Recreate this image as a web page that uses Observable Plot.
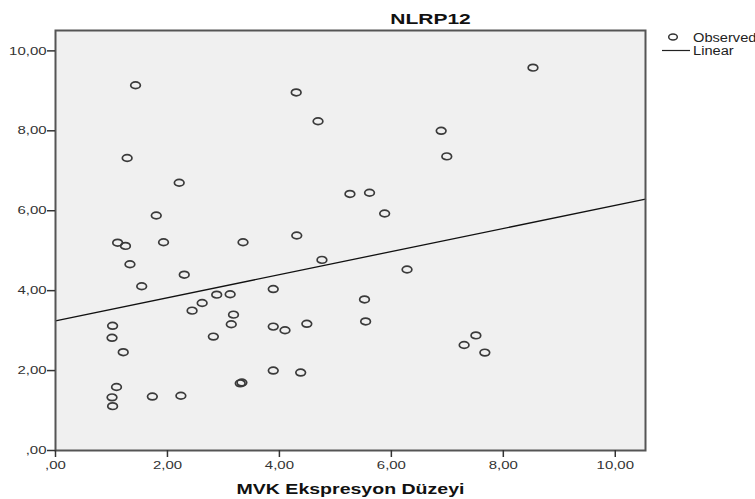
<!DOCTYPE html>
<html>
<head>
<meta charset="utf-8">
<script src="https://cdn.jsdelivr.net/npm/d3@7"></script>
<script src="https://cdn.jsdelivr.net/npm/@observablehq/plot@0.6"></script>
<style>
  html, body { margin: 0; padding: 0; background: #fff; overflow: hidden; }
  #chart svg { display: block; overflow: visible; }
</style>
</head>
<body>
<div id="chart"></div>
<script>
// ---- data ----
const mvk = [1.43, 4.30, 4.69, 1.28, 2.21, 5.26, 5.61, 1.80, 1.11, 1.25,
             1.93, 3.35, 4.31, 5.88, 8.53, 6.89, 6.99, 1.33, 2.30, 4.76,
             1.54, 3.89, 2.88, 3.12, 2.62, 2.44, 3.18, 5.52, 5.54, 1.02,
             3.14, 3.89, 4.10, 4.49, 1.01, 2.82, 1.21, 3.89, 4.38, 3.30,
             3.33, 1.09, 1.01, 1.73, 2.24, 1.02, 6.28, 7.51, 7.30, 7.67];
const nlrp12 = [9.14, 8.96, 8.24, 7.32, 6.70, 6.42, 6.45, 5.88, 5.20, 5.12,
                5.21, 5.21, 5.38, 5.93, 9.58, 8.00, 7.36, 4.66, 4.40, 4.77,
                4.11, 4.04, 3.90, 3.91, 3.69, 3.50, 3.40, 3.78, 3.23, 3.12,
                3.16, 3.10, 3.01, 3.17, 2.82, 2.85, 2.46, 2.00, 1.95, 1.68,
                1.70, 1.59, 1.33, 1.35, 1.37, 1.11, 4.53, 2.88, 2.64, 2.45];
// linear fit line (read at the frame edges)
const fitX = [0, 10.54];
const fitY = [3.245, 6.29];
// axes
const xDomain = [0, 10.54];
const yDomain = [0, 10.51];
const tickValues = [0, 2, 4, 6, 8, 10];
const tickLabels = [",00", "2,00", "4,00", "6,00", "8,00", "10,00"];
const titleText = "NLRP12";
const xLabelText = "MVK Ekspresyon Düzeyi";
const legendLabels = ["Observed", "Linear"];

const points = mvk.map((x, i) => ({x, y: nlrp12[i]}));
const fit = fitX.map((x, i) => ({x, y: fitY[i]}));
const fmt = d => tickLabels[tickValues.indexOf(d)];

// SPSS-like flattened circle marker
const ellipse = {
  draw(ctx, size) {
    const r = Math.sqrt(size / Math.PI);
    const rx = r * 1.15, ry = r * 0.8, k = 0.5523;
    ctx.moveTo(rx, 0);
    ctx.bezierCurveTo(rx, k * ry, k * rx, ry, 0, ry);
    ctx.bezierCurveTo(-k * rx, ry, -rx, k * ry, -rx, 0);
    ctx.bezierCurveTo(-rx, -k * ry, -k * rx, -ry, 0, -ry);
    ctx.bezierCurveTo(k * rx, -ry, rx, -k * ry, rx, 0);
    ctx.closePath();
  }
};

const chart = Plot.plot({
  width: 755,
  height: 499,
  marginLeft: 55,
  marginRight: 110,
  marginTop: 30,
  marginBottom: 49,
  style: {fontFamily: "'Liberation Sans', Arial, sans-serif", fontSize: "11.5px", color: "#333", background: "#fff"},
  x: {domain: xDomain},
  y: {domain: yDomain},
  marks: [
    Plot.frame({fill: "#f0f0f0", stroke: "none"}),
    Plot.line(fit, {x: "x", y: "y", stroke: "#111", strokeWidth: 1.3}),
    Plot.dot(points, {x: "x", y: "y", symbol: ellipse, r: 4.2, fill: "none", stroke: "#3a3a3a", strokeWidth: 1.7}),
    Plot.frame({stroke: "#555", strokeWidth: 2}),
    Plot.axisX({ticks: tickValues, tickFormat: fmt, tickSize: 7, tickPadding: 3, stroke: "#333", strokeWidth: 1.5, fill: "#333", label: null}),
    Plot.axisY({ticks: tickValues, tickFormat: fmt, tickSize: 8, tickPadding: 1, stroke: "#333", strokeWidth: 1.5, fill: "#333", label: null}),
    Plot.text([titleText], {frameAnchor: "top", dx: 80, dy: -11, fontSize: 15, fontWeight: "bold", fill: "#111", lineAnchor: "middle", className: "ttl"}),
    Plot.text([xLabelText], {frameAnchor: "bottom", dy: 39, fontSize: 15.5, fontWeight: "bold", fill: "#111", lineAnchor: "middle", className: "xlab"})
  ]
});
document.getElementById("chart").appendChild(chart);

const svg = d3.select(chart);
// legend
const lg = svg.append("g").attr("font-family", "'Liberation Sans', Arial, sans-serif").attr("font-size", 12)
  .attr("fill", "#222").attr("text-anchor", "start");
lg.append("path").attr("d", d3.symbol(ellipse, Math.PI * 14)()).attr("transform", "translate(673,37)")
  .attr("fill", "none").attr("stroke", "#333").attr("stroke-width", 1.5);
lg.append("text").attr("x", 693).attr("y", 37.5).attr("dy", "0.35em").text(legendLabels[0]).attr("class", "lgt");
lg.append("line").attr("x1", 662).attr("x2", 690).attr("y1", 50.5).attr("y2", 50.5).attr("stroke", "#222").attr("stroke-width", 1.2);
lg.append("text").attr("x", 693).attr("y", 51).attr("dy", "0.35em").text(legendLabels[1]).attr("class", "lgt");

// widen glyphs like the reference's horizontally stretched type
function stretch(sel, f) {
  sel.each(function() {
    const w = this.getComputedTextLength();
    this.setAttribute("textLength", w * f);
    this.setAttribute("lengthAdjust", "spacingAndGlyphs");
  });
}
stretch(svg.selectAll("g[aria-label='x-axis tick label'] text, g[aria-label='y-axis tick label'] text"), 1.3);
stretch(svg.selectAll(".xlab text"), 1.26);
stretch(svg.selectAll(".ttl text"), 1.4);
stretch(svg.selectAll(".lgt"), 1.22);
</script>
</body>
</html>
